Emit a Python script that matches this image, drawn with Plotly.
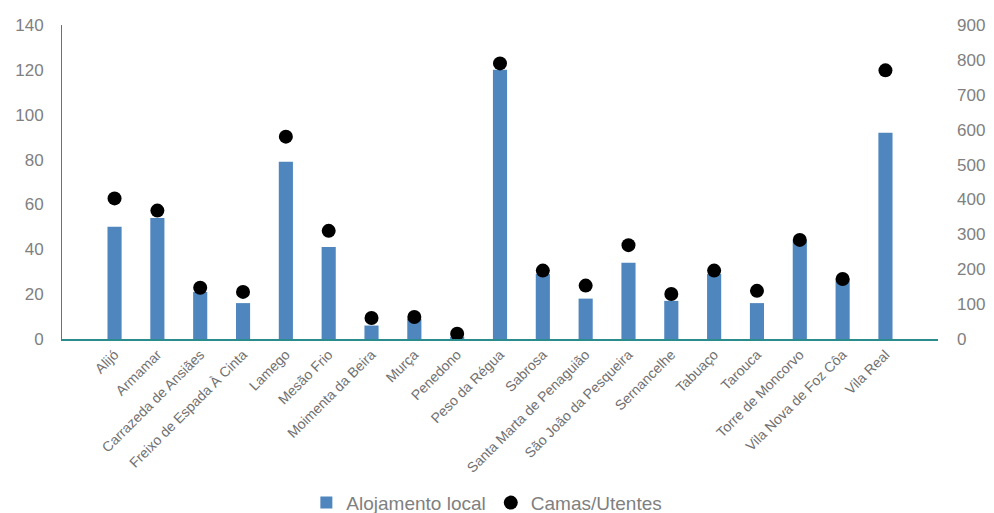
import plotly.graph_objects as go

concelhos = ["Alijó", "Armamar", "Carrazeda de Ansiães", "Freixo de Espada À Cinta", "Lamego",
             "Mesão Frio", "Moimenta da Beira", "Murça", "Penedono", "Peso da Régua", "Sabrosa",
             "Santa Marta de Penaguião", "São João da Pesqueira", "Sernancelhe", "Tabuaço",
             "Tarouca", "Torre de Moncorvo", "Vila Nova de Foz Côa", "Vila Real"]
alojamento_local = [50, 54, 21, 16, 79, 41, 6, 9, 1, 120, 29, 18, 34, 17, 29, 16, 44, 27, 92]
camas_utentes = [403, 368, 147, 135, 580, 310, 60, 63, 15, 790, 196, 153, 269, 129, 196, 138, 284, 172, 770]

left_ticks = [0, 20, 40, 60, 80, 100, 120, 140]
right_ticks = [0, 100, 200, 300, 400, 500, 600, 700, 800, 900]

fig = go.Figure()
fig.add_trace(go.Bar(x=concelhos, y=alojamento_local, name="Alojamento local",
                     marker=dict(color="#4f86be", line=dict(width=0)), yaxis="y"))
fig.add_trace(go.Scatter(x=concelhos, y=camas_utentes, name="Camas/Utentes", mode="markers",
                         marker=dict(color="black", size=14), yaxis="y2"))

fam = "Liberation Sans, Arial, sans-serif"
tickfont = dict(family=fam, size=17, color="#808080")
fig.update_layout(
    width=994, height=513,
    margin=dict(l=62, r=56, t=25, b=174),
    plot_bgcolor="white", paper_bgcolor="white",
    bargap=0.67,
    font=dict(family=fam, color="#808080"),
    xaxis=dict(showline=True, linecolor="#2a8c8c", linewidth=2, ticks="", tickangle=-45,
               tickfont=dict(family=fam, size=14, color="#707070"),
               showgrid=False, automargin=False),
    yaxis=dict(range=[0, 140], tickvals=left_ticks, showgrid=False, showline=True,
               linecolor="#2a8c8c", linewidth=1, tickfont=tickfont, ticks="", zeroline=False,
               ticklabelstandoff=14, automargin=False),
    yaxis2=dict(range=[0, 900], tickvals=right_ticks, overlaying="y", side="right",
                showgrid=False, showline=False, tickfont=tickfont, ticks="", zeroline=False,
                ticklabelstandoff=18, automargin=False),
    legend=dict(orientation="h", x=0.485, xanchor="center", y=0.02, yanchor="middle",
                yref="container", font=dict(family=fam, size=19, color="#808080"),
                itemwidth=30, tracegroupgap=0),
    showlegend=True,
)
fig.write_html("out.html")
